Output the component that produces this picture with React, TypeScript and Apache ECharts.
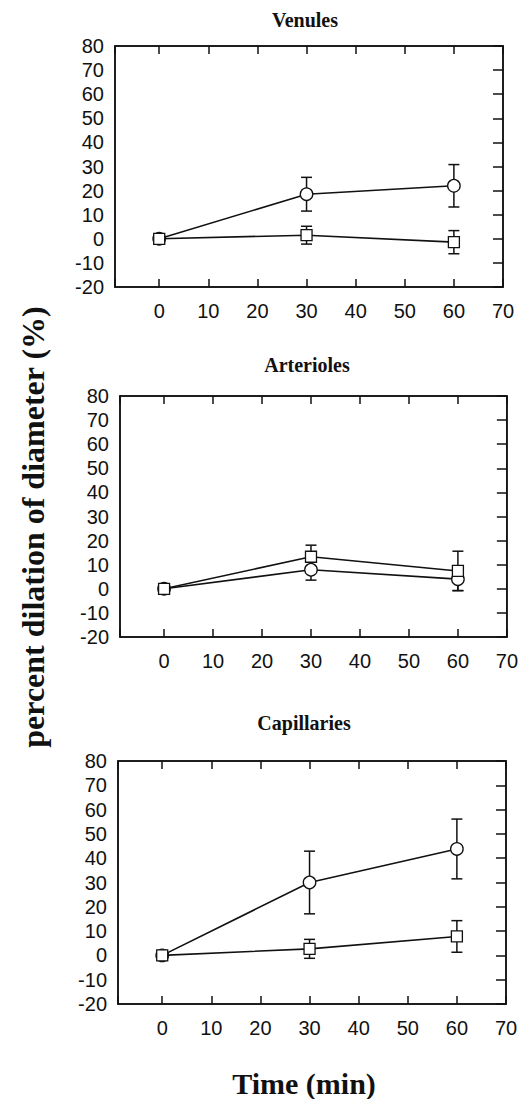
import React, { useEffect, useRef } from "react";
import * as echarts from "echarts";

// ---- data ----
const times = [0, 30, 60];
const panelTitles = ["Venules", "Arterioles", "Capillaries"];
const xTickLabels = [0, 10, 20, 30, 40, 50, 60, 70];
const yTickLabels = [-20, -10, 0, 10, 20, 30, 40, 50, 60, 70, 80];

const venCircleMean = [0, 18.5, 22.0];
const venCircleErr = [0, 7.0, 8.8];
const venSquareMean = [0, 1.5, -1.4];
const venSquareErr = [0, 3.7, 4.8];

const artCircleMean = [0, 7.9, 4.0];
const artCircleErr = [0, 4.3, 4.7];
const artSquareMean = [0, 13.3, 7.4];
const artSquareErr = [0, 4.8, 8.2];

const capCircleMean = [0, 30.0, 43.8];
const capCircleErr = [0, 12.9, 12.3];
const capSquareMean = [0, 2.7, 7.8];
const capSquareErr = [0, 3.9, 6.5];

const yAxisTitle = "percent dilation of diameter (%)";
const xAxisTitle = "Time (min)";

const panels = [
  { circle: venCircleMean, circleErr: venCircleErr, square: venSquareMean, squareErr: venSquareErr },
  { circle: artCircleMean, circleErr: artCircleErr, square: artSquareMean, squareErr: artSquareErr },
  { circle: capCircleMean, circleErr: capCircleErr, square: capSquareMean, squareErr: capSquareErr },
];

// layout
const grids = [
  { left: 115, top: 46, width: 388, height: 241 },
  { left: 120, top: 396, width: 388, height: 241 },
  { left: 118, top: 761, width: 388, height: 243 },
];
const titlePos = [
  { x: 305, y: 20 },
  { x: 307, y: 365 },
  { x: 304, y: 723 },
];

const INK = "#111";
const tickFont = "Liberation Sans, Arial, sans-serif";
const serif = "Liberation Serif, Times New Roman, serif";

function errorBarRender(params: any, api: any) {
  const x = api.value(0);
  const m = api.value(1);
  const e = api.value(2);
  if (!e) return null;
  const top = api.coord([x, m + e]);
  const bot = api.coord([x, m - e]);
  const hw = 5.5;
  const style = { stroke: INK, lineWidth: 1.5 };
  return {
    type: "group",
    children: [
      { type: "line", shape: { x1: top[0], y1: top[1], x2: bot[0], y2: bot[1] }, style },
      { type: "line", shape: { x1: top[0] - hw, y1: top[1], x2: top[0] + hw, y2: top[1] }, style },
      { type: "line", shape: { x1: bot[0] - hw, y1: bot[1], x2: bot[0] + hw, y2: bot[1] }, style },
    ],
  };
}

export default function App() {
  const ref = useRef<HTMLDivElement>(null);
  useEffect(() => {
    if (!ref.current) return;
    const chart = echarts.init(ref.current, undefined, { renderer: "svg" });

    const xAxes: any[] = [];
    const yAxes: any[] = [];
    const series: any[] = [];
    const lineStyle = { color: INK, width: 1.5 };

    grids.forEach((g, i) => {
      const xBase = {
        type: "value",
        gridIndex: i,
        min: -9,
        max: 70,
        splitNumber: 8,
        minInterval: 10,
        maxInterval: 10,
        splitLine: { show: false },
      };
      xAxes.push({
        ...xBase,
        position: "bottom",
        axisLine: { show: true, onZero: false, lineStyle },
        axisTick: { show: true, inside: true, length: 8, lineStyle },
        axisLabel: {
          show: true,
          margin: 14,
          color: INK,
          fontSize: 20,
          fontFamily: tickFont,
          formatter: (v: number) => (xTickLabels.includes(v) ? String(v) : ""),
        },
      });
      xAxes.push({
        ...xBase,
        position: "top",
        axisLine: { show: true, onZero: false, lineStyle },
        axisTick: { show: true, inside: true, length: 8, lineStyle },
        axisLabel: { show: false },
      });
      const yBase = {
        type: "value",
        gridIndex: i,
        min: -20,
        max: 80,
        interval: 10,
        splitLine: { show: false },
      };
      yAxes.push({
        ...yBase,
        position: "left",
        axisLine: { show: true, onZero: false, lineStyle },
        axisTick: { show: false },
        axisLabel: {
          show: true,
          margin: 11,
          color: INK,
          fontSize: 20,
          fontFamily: tickFont,
          formatter: (v: number) => (yTickLabels.includes(v) ? String(v) : ""),
        },
      });
      yAxes.push({
        ...yBase,
        position: "right",
        axisLine: { show: true, onZero: false, lineStyle },
        axisTick: { show: true, inside: true, length: 10, lineStyle },
        axisLabel: { show: false },
      });

      const p = panels[i];
      const xi = 2 * i;
      const yi = 2 * i;
      series.push({
        type: "custom",
        xAxisIndex: xi,
        yAxisIndex: yi,
        renderItem: errorBarRender,
        data: times.map((t, k) => [t, p.circle[k], p.circleErr[k]]),
        z: 1,
        silent: true,
      });
      series.push({
        type: "custom",
        xAxisIndex: xi,
        yAxisIndex: yi,
        renderItem: errorBarRender,
        data: times.map((t, k) => [t, p.square[k], p.squareErr[k]]),
        z: 1,
        silent: true,
      });
      series.push({
        type: "line",
        xAxisIndex: xi,
        yAxisIndex: yi,
        data: times.map((t, k) => [t, p.circle[k]]),
        symbol: "circle",
        symbolSize: 12.5,
        showAllSymbol: true,
        lineStyle: { color: INK, width: 1.6 },
        itemStyle: { color: "#fff", borderColor: INK, borderWidth: 1.3 },
        z: 3,
      });
      series.push({
        type: "line",
        xAxisIndex: xi,
        yAxisIndex: yi,
        data: times.map((t, k) => [t, p.square[k]]),
        symbol: "rect",
        symbolSize: 11,
        showAllSymbol: true,
        lineStyle: { color: INK, width: 1.6 },
        itemStyle: { color: "#fff", borderColor: INK, borderWidth: 1.3 },
        z: 4,
      });
    });

    const graphics: any[] = panelTitles.map((t, i) => ({
      type: "text",
      x: titlePos[i].x,
      y: titlePos[i].y,
      style: {
        text: t,
        align: "center",
        verticalAlign: "middle",
        font: `bold 20px ${serif}`,
        fill: INK,
      },
    }));
    graphics.push({
      type: "text",
      x: 33,
      y: 527,
      rotation: Math.PI / 2,
      style: {
        text: yAxisTitle,
        align: "center",
        verticalAlign: "middle",
        font: `bold 32px ${serif}`,
        fill: INK,
      },
    });
    graphics.push({
      type: "text",
      x: 304,
      y: 1083,
      style: {
        text: xAxisTitle,
        align: "center",
        verticalAlign: "middle",
        font: `bold 30px ${serif}`,
        fill: INK,
      },
    });

    chart.setOption({
      animation: false,
      backgroundColor: "#fff",
      grid: grids.map((g) => ({
        ...g,
        show: true,
        borderColor: INK,
        borderWidth: 1.5,
        containLabel: false,
      })),
      xAxis: xAxes,
      yAxis: yAxes,
      series,
      graphic: graphics,
    });
    return () => chart.dispose();
  }, []);

  return (
    <div
      ref={ref}
      style={{ position: "absolute", left: 0, top: 0, width: 521, height: 1099 }}
    />
  );
}
